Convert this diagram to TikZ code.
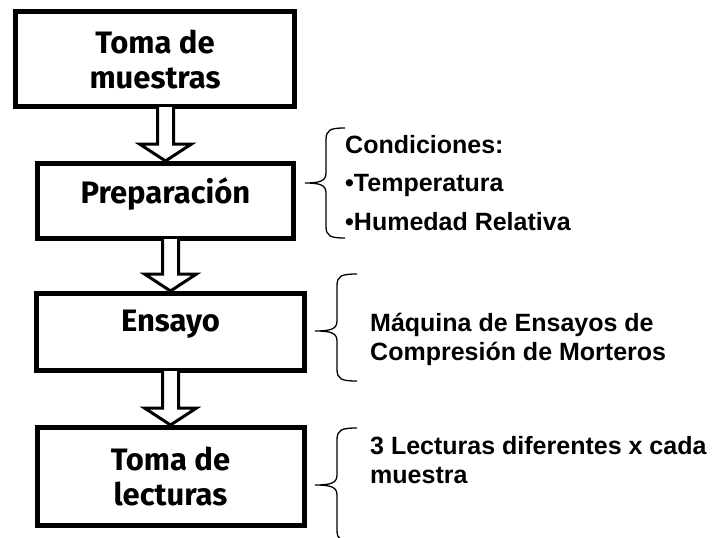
\documentclass[tikz,border=0pt]{standalone}
\usepackage{fontspec}
\setmainfont{Liberation Sans}
\newfontfamily\boxfont{Fira Sans}
\usepackage{tikz}
\usetikzlibrary{positioning, calc}

% hollow block arrow from the bottom of one box to the top of the next
\newcommand{\blockarrow}[2]{%
  \draw[hollow] let \p1=(#2.north), \p2=(#1.south) in
    (\x1-8pt,\y2+2pt) -- (\x1-8pt,\y1+17pt) -- (\x1-26pt,\y1+17pt) -- (\x1,\y1)
    -- (\x1+26pt,\y1+17pt) -- (\x1+8pt,\y1+17pt) -- (\x1+8pt,\y2+2pt);}
% curly brace: tip x, line x, end x, top y, tip y, bottom y
\newcommand{\curlybrace}[6]{%
  \draw[brace line] (#3,#4) .. controls (#2+4,#4) and (#2,#4-2) .. (#2,#4-12)
    -- (#2,#5+10) .. controls (#2,#5+2) and (#2-6,#5) .. (#1,#5)
    .. controls (#2-6,#5) and (#2,#5-2) .. (#2,#5-10)
    -- (#2,#6+12) .. controls (#2,#6+2) and (#2+4,#6) .. (#3,#6);}

\begin{document}
\begin{tikzpicture}[x=1pt,y=1pt,
    box/.style={draw,line width=5pt,align=center,font=\boxfont\bfseries\fontsize{31}{35}\selectfont},
    note/.style={anchor=base west,align=left,inner sep=0pt,font=\bfseries\fontsize{25}{28.5}\selectfont},
    hollow/.style={draw,line width=3pt,fill=white,line join=miter},
    brace line/.style={line width=1.3pt}]
  \useasboundingbox (0,0) rectangle (712,-538);

  \node[box,minimum width=279pt,minimum height=95pt] (muestras) at (155,-59) {Toma de\\muestras};
  \node[box,minimum width=256pt,minimum height=75pt,text depth=20pt] (prep) [below=52pt of muestras, xshift=10.5pt] {Preparación};
  \node[box,minimum width=268pt,minimum height=77pt,text depth=23pt] (ensayo) [below=50pt of prep, xshift=5pt] {Ensayo};
  \node[box,minimum width=267pt,minimum height=98pt] (lecturas) [below=52pt of ensayo] {Toma de\\lecturas};

  \blockarrow{muestras}{prep}
  \blockarrow{prep}{ensayo}
  \blockarrow{ensayo}{lecturas}

  % base of a multi-line note is its last line
  \node[note,font=\bfseries\fontsize{25}{38.5}\selectfont] (cond) at (345,-230)
    {Condiciones:\\•Temperatura\\•Humedad Relativa};
  \node[note] (maquina) at (370,-360) {Máquina de Ensayos de\\Compresión de Morteros};
  \node[note] (tres) at (370,-483) {3 Lecturas diferentes x cada\\muestra};

  \curlybrace{305}{326}{345}{-128}{-183}{-238}
  \curlybrace{315}{337}{357}{-274}{-331}{-381}
  \curlybrace{315}{337}{357}{-428}{-485}{-542}
\end{tikzpicture}
\end{document}
